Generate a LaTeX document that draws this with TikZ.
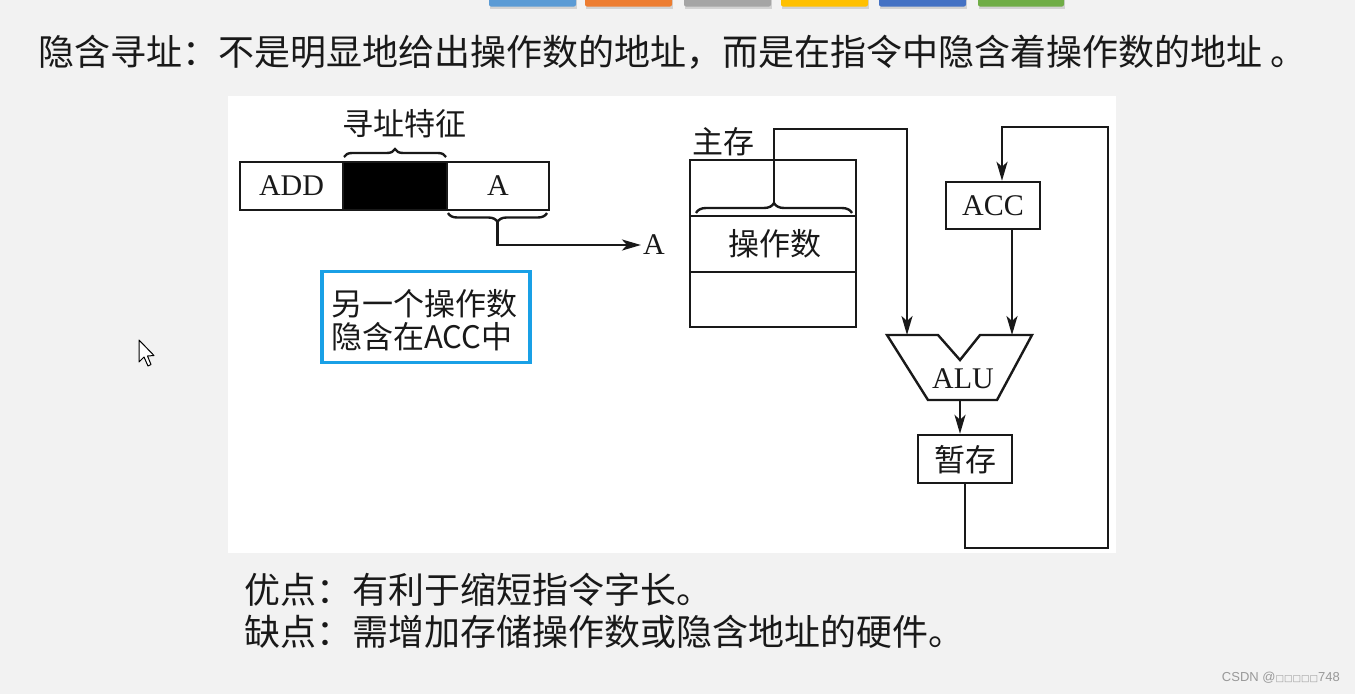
\documentclass[tikz,border=0pt]{standalone}
\usepackage{fontspec}
\setmainfont{Liberation Serif}
\newfontfamily\cjk{Noto Sans CJK SC}
\newfontfamily\djv{DejaVu Sans}
\newfontfamily\lsans{Liberation Sans}
\usetikzlibrary{arrows.meta,decorations.pathreplacing,calc,shadows}
\definecolor{bg}{RGB}{242,242,242}
\definecolor{notec}{RGB}{25,160,230}
\definecolor{ink}{RGB}{25,25,25}
\definecolor{b1}{RGB}{91,155,213}
\definecolor{b2}{RGB}{237,125,49}
\definecolor{b3}{RGB}{165,165,165}
\definecolor{b4}{RGB}{255,192,0}
\definecolor{b5}{RGB}{68,114,196}
\definecolor{b6}{RGB}{112,173,71}
\tikzset{
  ln/.style={line width=2.4pt, draw=ink},
  arr/.style={ln, -{Stealth[length=19pt,width=11pt,inset=5pt]}},
  cell/.style={ln, inner sep=0pt, minimum height=48pt, font=\fontsize{30}{30}\selectfont, text=ink},
  lbl/.style={inner sep=0pt, text=ink},
  zh/.style={lbl, font=\cjk\fontsize{31}{31}\selectfont},
  big/.style={lbl, font=\cjk\fontsize{36}{36}\selectfont, anchor=west},
  brc/.style={ln, decorate, decoration={brace, amplitude=#1}},
  topbar/.style={rounded corners=2pt, draw=none},
}
\begin{document}
\begin{tikzpicture}[x=1pt,y=-1pt]
\useasboundingbox (0,0) rectangle (1355,694);
\fill[bg] (0,0) rectangle (1355,694);
% top colored bars
\foreach \xa/\xb/\c in {489/576/b1,585/672/b2,684/771/b3,781/868/b4,879/966/b5,978/1064/b6}{
  \fill[gray!35] (\xa+1,-3) rectangle (\xb+1,8.5);
  \fill[\c,topbar] (\xa,-3) rectangle (\xb,6.5);
}
% title
\node[big] (title) at (38,52) {隐含寻址：不是明显地给出操作数的地址，而是在指令中隐含着操作数的地址 。};
% white panel
\fill[white] (228,96) rectangle (1116,553);
% instruction
\node[cell, minimum width=103pt] (add) at (291.5,186) {ADD};
\node[cell, minimum width=104pt, fill=black] (feat) at (395,186) {};
\node[cell, minimum width=102pt] (acell) at (498,186) {A};
\node[zh] (featlbl) at (404,124) {寻址特征};
\draw[brc=8pt] (344,157) -- (446,157);
\draw[brc=9pt] (547,213) -- (448,213);
\coordinate (btip) at (497.5,222);
\node[lbl, font=\fontsize{30}{30}\selectfont] (alab) at (654,245) {A};
\draw[arr] (btip) |- ([xshift=-2pt]alab.west);
% note
\node[draw=notec, line width=3.5pt, minimum width=208pt, minimum height=91pt, inner sep=0pt] (note) at (426,317) {};
\node[zh, anchor=west] (note1) at (331,304) {另一个操作数};
\node[zh, anchor=west] (note2) at (331,337) {隐含在ACC中};
% main memory
\node[zh] (memlbl) at (723,142) {主存};
\node[ln, minimum width=166pt, minimum height=56pt, inner sep=0pt] (m1) at (773,188) {};
\node[ln, minimum width=166pt, minimum height=56pt, inner sep=0pt] (m2) at (773,244) {};
\node[ln, minimum width=166pt, minimum height=55pt, inner sep=0pt] (m3) at (773,299.5) {};
\node[zh] (oplbl) at (775,244) {操作数};
\draw[brc=10pt] (696,213) -- (852,213);
\coordinate (mtip) at (774,203);
% ACC
\node[cell, minimum width=94pt, minimum height=47pt] (acc) at (993,205.5) {ACC};
% ALU
\coordinate (aluL) at (907,335);
\coordinate (aluR) at (1012,335);
\coordinate (aluB) at (960,400);
\draw[ln, line join=miter] (887,335) -- (938,335) -- (960,360) -- (980,335) -- (1032,335) -- (997,400) -- (928,400) -- cycle;
\node[lbl, font=\fontsize{30}{30}\selectfont] (alulbl) at (963,379) {ALU};
% temp
\node[cell, minimum width=94pt, minimum height=48pt] (tmp) at (965,459) {};
\node[zh] (tmplbl) at (965,460) {暂存};
% connectors
\draw[arr] (mtip) -- ++(0,-74) -| (aluL);
\draw[arr] (acc.south -| aluR) -- (aluR);
\draw[arr] (aluB) -- (aluB |- tmp.north);
\coordinate (loopR) at (1108,548);
\coordinate (loopT) at (1108,127);
\draw[arr] (tmp.south) |- (loopR) -- (loopT) -| ([xshift=9pt]acc.north);
% bottom text
\node[big] (pro) at (244,590) {优点：有利于缩短指令字长。};
\node[big] (con) at (244,632) {缺点：需增加存储操作数或隐含地址的硬件。};
% cursor
\draw[black, line width=1pt, fill=white, line join=round] (139,340) -- (139,362) -- (144,357) -- (148,366) -- (151,364.5) -- (147.5,356) -- (154,355.5) -- cycle;
% watermark
\node[lbl, anchor=east, text=gray!80, font=\lsans\fontsize{13}{13}\selectfont] (wm) at (1340,678) {CSDN @{\djv\fontsize{9}{9}\selectfont □□□□□}748};
\end{tikzpicture}
\end{document}
